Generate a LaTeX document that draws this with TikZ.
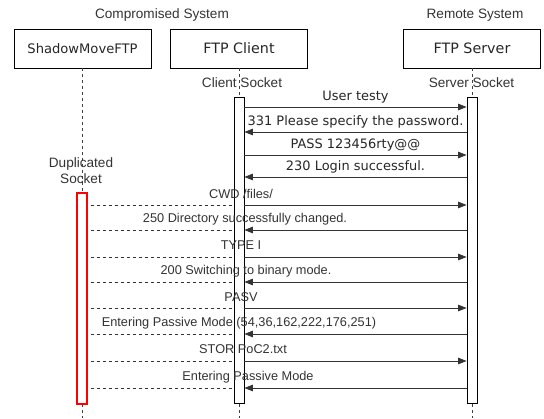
\documentclass[tikz,border=0pt]{standalone}
\usepackage{fontspec}
\setmainfont{Liberation Sans}
\newfontfamily\vfont{DejaVu Sans}
\usetikzlibrary{arrows.meta,calc}
\begin{document}
\begin{tikzpicture}[x=1pt,y=-1pt,
  actor/.style={draw=black, line width=0.8pt, minimum width=137pt, minimum height=39pt, inner sep=0pt,
    font=\vfont\fontsize{14.3}{16}\selectfont, text=black!85},
  actbar/.style={draw=black, fill=white, line width=0.8pt, minimum width=10pt, inner sep=0pt},
  redbar/.style={draw=red, fill=white, line width=1.3pt, minimum width=10pt, inner sep=0pt},
  life/.style={draw=black!75, line width=0.7pt, dash pattern=on 3pt off 3pt},
  dupline/.style={draw=black!80, line width=0.7pt, dash pattern=on 3pt off 3pt, shorten <=3pt, shorten >=2pt},
  msg/.style={draw=black!80, line width=0.8pt, -{Triangle[length=8.5pt,width=6.5pt]}},
  tlbl/.style={font=\fontsize{13.6}{16}\selectfont, text=black!80, inner sep=0pt},
  albl/.style={font=\fontsize{12.75}{15}\selectfont, text=black!80, inner sep=0pt},
  vlbl/.style={font=\vfont\fontsize{12.95}{15}\selectfont, text=black!85, inner sep=0pt}
]
\useasboundingbox (0,0) rectangle (544,419);

% titles
\node[tlbl] (t1) at (162,15) {Compromised System};
\node[tlbl] (t2) at (475,15) {Remote System};

% actors
\node[actor, font=\vfont\fontsize{13.1}{16}\selectfont] (sm) at (82.5,48.5) {ShadowMoveFTP};
\node[actor] (cl) at (239,48.5) {FTP Client};
\node[actor] (sv) at (472,48.5) {FTP Server};

% lifeline ends
\coordinate (smend) at (82,418);
\coordinate (clend) at (239,418);
\coordinate (svend) at (472,418);

\draw[life] (sm.south) -- (sm.south |- smend);
\draw[life] (cl.south) -- (cl.south |- clend);
\draw[life] (sv.south) -- (sv.south |- svend);

% socket labels
\node[tlbl] (cs) at (242,83) {Client Socket};
\node[tlbl] (ss) at (471.5,83) {Server Socket};
\node[tlbl, align=center] (ds) at (81,171) {Duplicated\\Socket};

% activation bars
\node[actbar, minimum height=306pt] (cb) at (239,250) {};
\node[actbar, minimum height=306pt] (sb) at (472,250) {};
\node[redbar, minimum height=211pt] (rb) at (82,298.5) {};

% message rows
\coordinate (m1) at (0,107);
\coordinate (m2) at (0,132);
\coordinate (m3) at (0,155);
\coordinate (m4) at (0,177);
\coordinate (m5) at (0,205);
\coordinate (m6) at (0,230);
\coordinate (m7) at (0,257);
\coordinate (m8) at (0,282);
\coordinate (m9) at (0,308);
\coordinate (m10) at (0,334);
\coordinate (m11) at (0,361);
\coordinate (m12) at (0,388);

% login phase
\draw[msg] (cb.east |- m1) -- (sb.west |- m1);
\draw[msg] (sb.west |- m2) -- (cb.east |- m2);
\draw[msg] (cb.east |- m3) -- (sb.west |- m3);
\draw[msg] (sb.west |- m4) -- (cb.east |- m4);

\node[vlbl] (l1) at (355.5,97) {User testy};
\node[vlbl] (l2) at (355.5,122) {331 Please specify the password.};
\node[vlbl] (l3) at (355.5,145) {PASS 123456rty@@};
\node[vlbl] (l4) at (355.5,167) {230 Login successful.};

% duplicated socket phase
\foreach \m in {m5,m6,m7,m8,m9,m10,m11,m12}{
  \draw[dupline] (rb.east |- \m) -- (cb.west |- \m);
}
\draw[msg] (cb.east |- m5) -- (sb.west |- m5);
\draw[msg] (sb.west |- m6) -- (cb.east |- m6);
\draw[msg] (cb.east |- m7) -- (sb.west |- m7);
\draw[msg] (sb.west |- m8) -- (cb.east |- m8);
\draw[msg] (cb.east |- m9) -- (sb.west |- m9);
\draw[msg] (sb.west |- m10) -- (cb.east |- m10);
\draw[msg] (cb.east |- m11) -- (sb.west |- m11);
\draw[msg] (sb.west |- m12) -- (cb.east |- m12);

\node[albl] (l5) at (241,194) {CWD /files/};
\node[albl] (l6) at (245,219) {250 Directory successfully changed.};
\node[albl] (l7) at (241,245) {TYPE I};
\node[albl] (l8) at (246,271) {200 Switching to binary mode.};
\node[albl] (l9) at (241,297) {PASV};
\node[albl] (l10) at (239,323) {Entering Passive Mode (54,36,162,222,176,251)};
\node[albl] (l11) at (243,349) {STOR PoC2.txt};
\node[albl] (l12) at (248,377) {Entering Passive Mode};
\end{tikzpicture}
\end{document}
